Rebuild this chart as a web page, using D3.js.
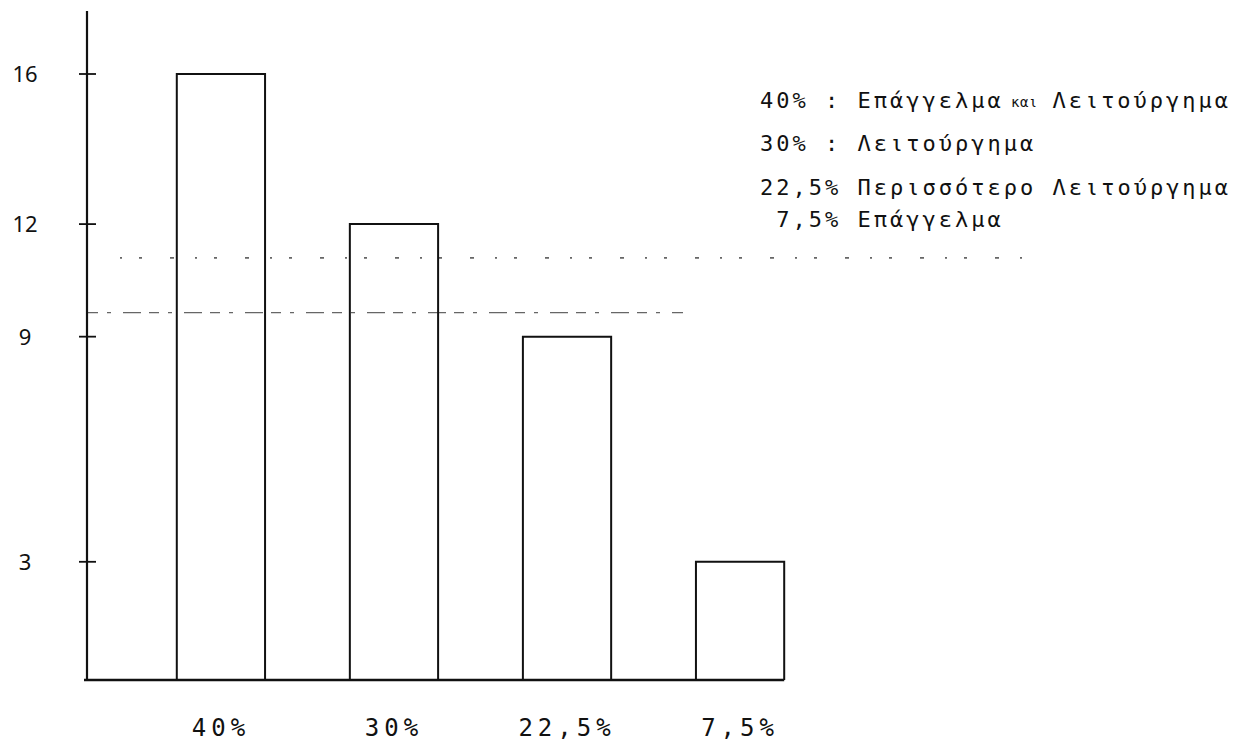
<!DOCTYPE html>
<html>
<head>
<meta charset="utf-8">
<script src="https://cdn.jsdelivr.net/npm/d3@7/dist/d3.min.js"></script>
<style>
  html, body { margin: 0; padding: 0; background: #fff; }
  svg { display: block; }
</style>
</head>
<body>
<svg id="chart" width="1248" height="742"></svg>
<script>
// ---- data ----
const categories = ["40%", "30%", "22,5%", "7,5%"];
const values = [16, 12, 9, 3];
const yTickValues = [3, 9, 12, 16];
const yTickLabels = ["3", "9", "12", "16"];
const legendLines = ["40% : Επάγγελμα", "30% : Λειτούργημα", "22,5% Περισσότερο Λειτούργημα", " 7,5% Επάγγελμα"];
const legendSmall = ["και", "", "", ""];
const legendTail = ["Λειτούργημα", "", "", ""];
const guideValues = [9.64, 11.1];

// ---- layout ----
const svg = d3.select("#chart");
const baseY = 680;
const y = d3.scaleLinear().domain([-0.15, 16]).range([baseY, 74]);
const x = d3.scaleBand().domain(categories).range([92, 869]).paddingInner(0.49).paddingOuter(0.49);
const axisX = 87;

// faint guide lines (scan residue)
svg.append("line")
  .attr("x1", 88).attr("x2", 683)
  .attr("y1", y(guideValues[0])).attr("y2", y(guideValues[0]))
  .attr("stroke", "#666").attr("stroke-width", 1.2)
  .attr("stroke-dasharray", "10 9 4 12 18 8");
svg.append("line")
  .attr("x1", 120).attr("x2", 1030)
  .attr("y1", y(guideValues[1])).attr("y2", y(guideValues[1]))
  .attr("stroke", "#666").attr("stroke-width", 1.6)
  .attr("stroke-dasharray", "2 17 3 28 4 21");

// bars (open bottom, drawn on baseline)
svg.append("g").selectAll("path")
  .data(values)
  .join("path")
  .attr("d", (d, i) => {
    const x0 = x(categories[i]), x1 = x0 + x.bandwidth();
    return `M${x0},${baseY}V${y(d)}H${x1}V${baseY}`;
  })
  .attr("fill", "none")
  .attr("stroke", "#111")
  .attr("stroke-width", 2);

// axes lines
svg.append("line")
  .attr("x1", axisX).attr("x2", axisX)
  .attr("y1", 11).attr("y2", baseY)
  .attr("stroke", "#111").attr("stroke-width", 2.2);
svg.append("line")
  .attr("x1", axisX - 3).attr("x2", x(categories[3]) + x.bandwidth())
  .attr("y1", baseY).attr("y2", baseY)
  .attr("stroke", "#111").attr("stroke-width", 2.4);

// y ticks (crossing the axis)
svg.append("g").selectAll("line")
  .data(yTickValues)
  .join("line")
  .attr("x1", axisX - 8).attr("x2", axisX + 9)
  .attr("y1", d => y(d)).attr("y2", d => y(d))
  .attr("stroke", "#111").attr("stroke-width", 1.8);

svg.append("g").selectAll("text")
  .data(yTickValues)
  .join("text")
  .attr("x", 25)
  .attr("y", d => y(d))
  .attr("dy", "0.36em")
  .attr("text-anchor", "middle")
  .attr("font-family", "'Noto Sans', sans-serif")
  .attr("font-size", 22)
  .attr("fill", "#111")
  .text((d, i) => yTickLabels[i]);

// x category labels
svg.append("g").selectAll("text")
  .data(categories)
  .join("text")
  .attr("x", d => x(d) + x.bandwidth() / 2)
  .attr("y", 736)
  .attr("text-anchor", "middle")
  .attr("font-family", "'DejaVu Sans Mono', monospace")
  .attr("font-size", 24)
  .attr("letter-spacing", 5)
  .attr("fill", "#111")
  .text(d => d);

// legend (monospaced grid)
const fs = 22, ls = 3;
const adv = fs * 0.602 + ls;
const legendX0 = 760;
const legendY = [108, 151, 195, 227];
const leg = svg.append("g")
  .attr("font-family", "'DejaVu Sans Mono', monospace")
  .attr("font-size", fs)
  .attr("letter-spacing", ls)
  .attr("fill", "#111");
legendLines.forEach((line, i) => {
  leg.append("text")
    .attr("x", legendX0).attr("y", legendY[i])
    .attr("xml:space", "preserve")
    .style("white-space", "pre")
    .text(line);
  if (legendSmall[i]) {
    leg.append("text")
      .attr("x", legendX0 + (line.length + 0.45) * adv).attr("y", legendY[i] - 1)
      .attr("font-size", 14).attr("letter-spacing", 0.5)
      .text(legendSmall[i]);
    leg.append("text")
      .attr("x", legendX0 + (line.length + 3) * adv).attr("y", legendY[i])
      .text(legendTail[i]);
  }
});
</script>
</body>
</html>
